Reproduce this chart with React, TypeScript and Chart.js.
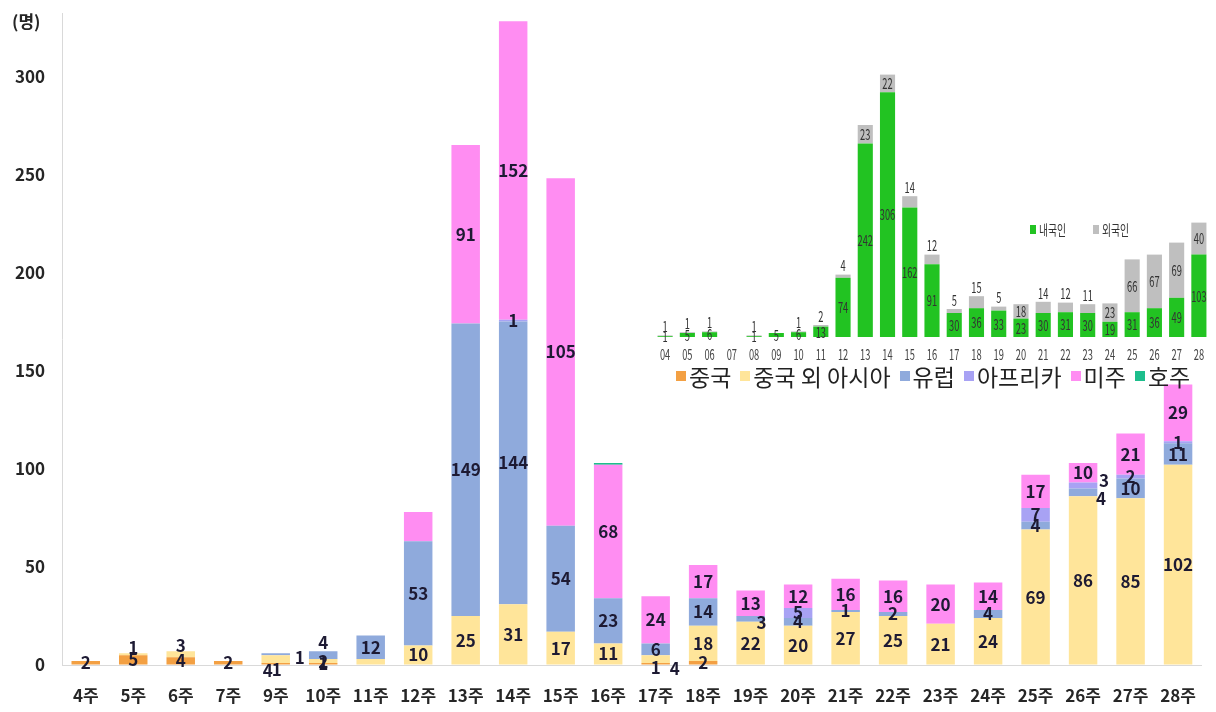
import React, { useEffect, useRef } from "react";
import { Chart, registerables } from "chart.js";

Chart.register(...registerables);

// ---------- main chart data ----------
const weeks = ["4주", "5주", "6주", "7주", "9주", "10주", "11주", "12주", "13주", "14주", "15주", "16주", "17주", "18주", "19주", "20주", "21주", "22주", "23주", "24주", "25주", "26주", "27주", "28주"];
const china = [2, 5, 4, 2, 1, 1, 0, 0, 0, 0, 0, 0, 1, 2, 0, 0, 0, 0, 0, 0, 0, 0, 0, 0];
const otherAsia = [0, 1, 3, 0, 4, 2, 3, 10, 25, 31, 17, 11, 4, 18, 22, 20, 27, 25, 21, 24, 69, 86, 85, 102];
const europe = [0, 0, 0, 0, 1, 4, 12, 53, 149, 144, 54, 23, 6, 14, 3, 4, 1, 2, 0, 4, 4, 4, 10, 11];
const africa = [0, 0, 0, 0, 0, 0, 0, 0, 0, 1, 0, 0, 0, 0, 0, 5, 0, 0, 0, 0, 7, 3, 2, 1];
const americas = [0, 0, 0, 0, 0, 0, 0, 15, 91, 152, 177, 68, 24, 17, 13, 12, 16, 16, 20, 14, 17, 10, 21, 29];
const oceania = [0, 0, 0, 0, 0, 0, 0, 0, 0, 0, 0, 1, 0, 0, 0, 0, 0, 0, 0, 0, 0, 0, 0, 0];
const yTicks = [0, 50, 100, 150, 200, 250, 300];

// labels as printed in the reference where they differ from the drawn bar
const labelOverrides: Record<string, string> = {
  "미주|15주": "105",
  "미주|12주": "",
  "중국 외 아시아|11주": "",
  "호주|16주": "",
};

// manual label placement tweaks (as in the reference), in px
const labelNudges: Record<string, [number, number]> = {
  "중국 외 아시아|5주": [0, -7],
  "중국 외 아시아|6주": [0, -9],
  "중국 외 아시아|9주": [-8, 11],
  "중국|9주": [1, 6],
  "유럽|9주": [24, 3],
  "유럽|10주": [0, -13],
  "중국|17주": [0, 4],
  "중국 외 아시아|17주": [19, 9],
  "유럽|19주": [11, 4],
  "유럽|26주": [18, 6],
  "아프리카|26주": [21, -5],
};

// ---------- inset chart data ----------
const insetWeeks = ["04", "05", "06", "07", "08", "09", "10", "11", "12", "13", "14", "15", "16", "17", "18", "19", "20", "21", "22", "23", "24", "25", "26", "27", "28"];
const korean = [1, 5, 6, 0, 1, 5, 6, 13, 74, 242, 306, 162, 91, 30, 36, 33, 23, 30, 31, 30, 19, 31, 36, 49, 103];
const foreign = [1, 1, 1, 0, 1, 0, 1, 2, 4, 23, 22, 14, 12, 5, 15, 5, 18, 14, 12, 11, 23, 66, 67, 69, 40];

const FONT = "'Noto Sans CJK KR', 'Noto Sans', sans-serif";

const seriesDefs = [
  { label: "중국", data: china, color: "#F3A043" },
  { label: "중국 외 아시아", data: otherAsia, color: "#FFE59A" },
  { label: "유럽", data: europe, color: "#8FAADC" },
  { label: "아프리카", data: africa, color: "#A8A2F4" },
  { label: "미주", data: americas, color: "#FF8DF2" },
  { label: "호주", data: oceania, color: "#1DBE8C" },
];

const mainLabelPlugin = {
  id: "mainLabels",
  afterDatasetsDraw(chart: any) {
    const ctx = chart.ctx;
    ctx.save();
    ctx.font = `bold 17px ${FONT}`;
    ctx.fillStyle = "#1d1a33";
    ctx.textAlign = "center";
    ctx.textBaseline = "middle";
    chart.data.datasets.forEach((ds: any, di: number) => {
      const meta = chart.getDatasetMeta(di);
      meta.data.forEach((bar: any, i: number) => {
        const v = ds.data[i];
        if (!v) return;
        const key = ds.label + "|" + weeks[i];
        const text = key in labelOverrides ? labelOverrides[key] : String(v);
        if (!text) return;
        const p = bar.getProps(["x", "y", "base"], true);
        const n = labelNudges[key] || [0, 0];
        ctx.fillText(text, p.x + n[0], (p.y + p.base) / 2 + n[1]);
      });
    });
    ctx.restore();
  },
};

function narrowText(ctx: any, text: string, x: number, y: number, sx: number) {
  ctx.save();
  ctx.translate(x, y);
  ctx.scale(sx, 1);
  ctx.fillText(text, 0, 0);
  ctx.restore();
}

const insetLabelPlugin = {
  id: "insetLabels",
  afterDatasetsDraw(chart: any) {
    const ctx = chart.ctx;
    ctx.save();
    ctx.font = `15px ${FONT}`;
    ctx.textAlign = "center";
    ctx.textBaseline = "middle";
    const m0 = chart.getDatasetMeta(0);
    const m1 = chart.getDatasetMeta(1);
    m0.data.forEach((bar: any, i: number) => {
      ctx.fillStyle = "#333333";
      const p = bar.getProps(["x", "y", "base"], true);
      if (korean[i]) narrowText(ctx, String(korean[i]), p.x, (p.y + p.base) / 2, 0.62);
      const q = m1.data[i].getProps(["x", "y", "base"], true);
      if (foreign[i]) {
        const h = q.base - q.y;
        const ty = h >= 13 ? (q.y + q.base) / 2 : q.y - 9;
        narrowText(ctx, String(foreign[i]), q.x, ty, 0.62);
      }
      ctx.fillStyle = "#444444";
      narrowText(ctx, insetWeeks[i], p.x, chart.chartArea.bottom + 17, 0.62);
    });
    ctx.restore();
  },
};

export default function App() {
  const mainRef = useRef<HTMLCanvasElement>(null);
  const insetRef = useRef<HTMLCanvasElement>(null);

  useEffect(() => {
    const main = new Chart(mainRef.current as HTMLCanvasElement, {
      type: "bar",
      data: {
        labels: weeks,
        datasets: seriesDefs.map((s) => ({
          label: s.label,
          data: s.data,
          backgroundColor: s.color,
          borderWidth: 0,
          barPercentage: 0.6,
          categoryPercentage: 1,
        })),
      },
      options: {
        responsive: false,
        animation: false,
        layout: { padding: { top: 13.5, right: 4, left: 0, bottom: 0 } },
        plugins: { legend: { display: false }, tooltip: { enabled: false } },
        scales: {
          x: {
            stacked: true,
            grid: { display: false, drawTicks: false },
            border: { display: true, color: "#d9d9d9" },
            ticks: { color: "#262626", font: { family: FONT, size: 17, weight: "bold" }, padding: 20, maxRotation: 0, autoSkip: false },
            afterFit: (s: any) => { s.height = 47; },
          },
          y: {
            stacked: true,
            min: 0,
            max: 332,
            bounds: "data",
            afterBuildTicks: (s: any) => { s.ticks = yTicks.map((v) => ({ value: v })); },
            grid: { display: true, drawOnChartArea: false, drawTicks: true, tickLength: 17, tickColor: "rgba(0,0,0,0)" },
            border: { display: true, color: "#d9d9d9" },
            ticks: { color: "#262626", font: { family: FONT, size: 17, weight: "bold" }, padding: 0 },
            afterFit: (s: any) => { s.width = 62; },
          },
        },
      } as any,
      plugins: [mainLabelPlugin],
    });

    const inset = new Chart(insetRef.current as HTMLCanvasElement, {
      type: "bar",
      data: {
        labels: insetWeeks,
        datasets: [
          { label: "내국인", data: korean, backgroundColor: "#22C322", borderWidth: 0, barPercentage: 0.68, categoryPercentage: 1 },
          { label: "외국인", data: foreign, backgroundColor: "#BFBFBF", borderWidth: 0, barPercentage: 0.68, categoryPercentage: 1 },
        ],
      },
      options: {
        responsive: false,
        animation: false,
        layout: { padding: { top: 15, right: 2, left: 0, bottom: 33 } },
        plugins: { legend: { display: false }, tooltip: { enabled: false } },
        scales: {
          x: { display: false, stacked: true },
          y: { display: false, stacked: true, min: 0, max: 340 },
        },
      } as any,
      plugins: [insetLabelPlugin],
    });

    return () => {
      main.destroy();
      inset.destroy();
    };
  }, []);

  return (
    <div style={{ position: "absolute", left: 0, top: 0, width: 1216, height: 712, background: "#fff", fontFamily: FONT, overflow: "hidden" }}>
      <canvas ref={mainRef} width={1216} height={712} style={{ position: "absolute", left: 0, top: 0 }} />
      <canvas ref={insetRef} width={558} height={320} style={{ position: "absolute", left: 654, top: 50 }} />
      <div style={{ position: "absolute", left: 12, top: 8, fontSize: 17, fontWeight: "bold", color: "#262626" }}>(명)</div>
      <div style={{ position: "absolute", left: 676, top: 359, display: "flex", alignItems: "center", whiteSpace: "nowrap", fontSize: 23, color: "#222" }}>
        {seriesDefs.map((s) => (
          <div key={s.label} style={{ display: "flex", alignItems: "center", marginRight: 9 }}>
            <span style={{ display: "inline-block", width: 10, height: 10, background: s.color, marginRight: 3 }} />
            <span>{s.label}</span>
          </div>
        ))}
      </div>
      <div style={{ position: "absolute", left: 1030, top: 219, display: "flex", alignItems: "center", fontSize: 14, color: "#333", whiteSpace: "nowrap" }}>
        <span style={{ display: "inline-block", width: 6, height: 9, background: "#22C322", marginRight: 3 }} />
        <span style={{ display: "inline-block", transform: "scaleX(0.7)", transformOrigin: "left center", width: 34 }}>내국인</span>
        <span style={{ display: "inline-block", width: 6, height: 9, background: "#BFBFBF", marginLeft: 20, marginRight: 3 }} />
        <span style={{ display: "inline-block", transform: "scaleX(0.7)", transformOrigin: "left center", width: 34 }}>외국인</span>
      </div>
    </div>
  );
}
